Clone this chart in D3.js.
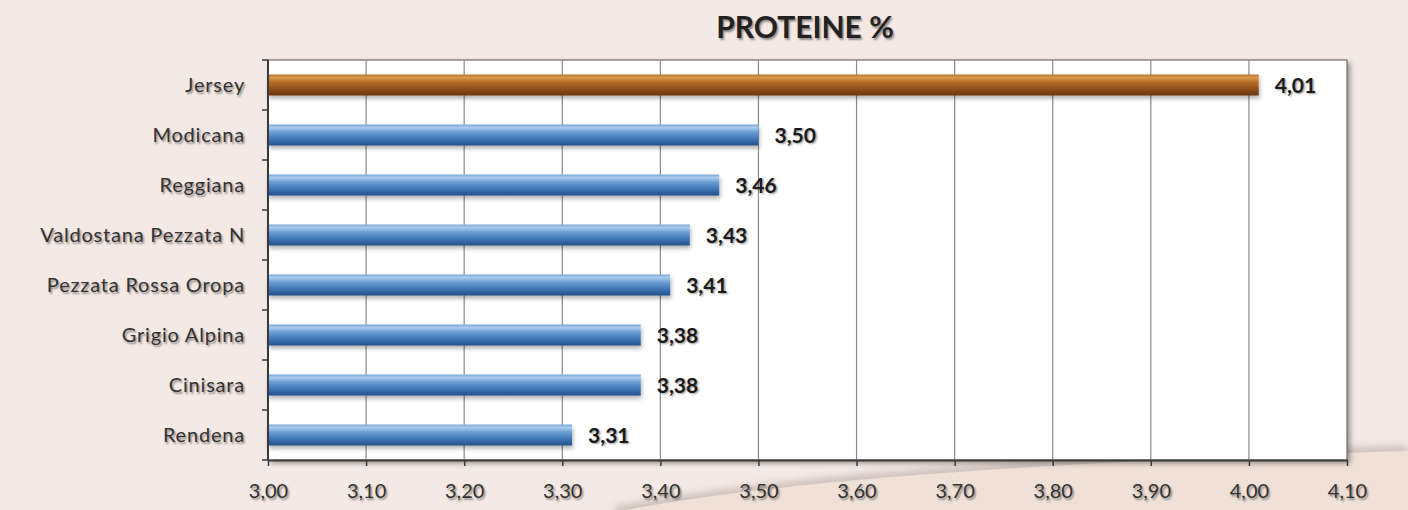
<!DOCTYPE html>
<html>
<head>
<meta charset="utf-8">
<script src="https://cdn.jsdelivr.net/npm/d3@7"></script>
<style>
  html, body { margin: 0; padding: 0; background: #f4e9e5; }
  svg { display: block; }
  .shadowed { text-shadow: 1.5px 1.5px 2px rgba(0, 0, 0, 0.4); }
</style>
</head>
<body>
<div id="chart"></div>
<script>
  // Chart data
  var breeds = ["Jersey", "Modicana", "Reggiana", "Valdostana Pezzata N", "Pezzata Rossa Oropa", "Grigio Alpina", "Cinisara", "Rendena"];
  var protein = [4.01, 3.50, 3.46, 3.43, 3.41, 3.38, 3.38, 3.31];
  var xTicks = [3.00, 3.10, 3.20, 3.30, 3.40, 3.50, 3.60, 3.70, 3.80, 3.90, 4.00, 4.10];
  var titleText = "PROTEINE %";

  var width = 1408, height = 510;
  var margin = { top: 60, right: 61, bottom: 50, left: 268 };
  var innerWidth = width - margin.left - margin.right;
  var innerHeight = height - margin.top - margin.bottom;

  var fmt = function (v) { return d3.format(".2f")(v).replace(".", ","); };
  var font = "Lato, 'Open Sans', sans-serif";

  var svg = d3.select("#chart").append("svg")
    .attr("width", width)
    .attr("height", height);

  var defs = svg.append("defs");

  // bar shadow
  var bs = defs.append("filter").attr("id", "barShadow")
    .attr("x", "-2%").attr("y", "-30%").attr("width", "104%").attr("height", "180%");
  bs.append("feDropShadow").attr("dx", 1).attr("dy", 3).attr("stdDeviation", 2)
    .attr("flood-color", "#000").attr("flood-opacity", 0.3);

  // plot area shadow
  var ps = defs.append("filter").attr("id", "plotShadow")
    .attr("x", "-2%").attr("y", "-2%").attr("width", "104%").attr("height", "106%");
  ps.append("feDropShadow").attr("dx", 3).attr("dy", 3).attr("stdDeviation", 2.5)
    .attr("flood-color", "#000").attr("flood-opacity", 0.35);

  // blur for the swoosh edge
  defs.append("filter").attr("id", "soft")
    .attr("x", "-5%").attr("y", "-50%").attr("width", "110%").attr("height", "200%")
    .append("feGaussianBlur").attr("stdDeviation", 4);

  function cylinder(id, stops) {
    var g = defs.append("linearGradient").attr("id", id)
      .attr("x1", 0).attr("y1", 0).attr("x2", 0).attr("y2", 1);
    stops.forEach(function (s) {
      g.append("stop").attr("offset", s[0]).attr("stop-color", s[1]);
    });
  }
  cylinder("gradBlue", [[0, "#7ba7d6"], [0.15, "#a9cbee"], [0.35, "#6f9fd6"], [0.7, "#3f74b4"], [1, "#22508a"]]);
  cylinder("gradBrown", [[0, "#b8752e"], [0.15, "#d99a4c"], [0.35, "#b56d26"], [0.7, "#8f4f1a"], [1, "#6a3510"]]);

  // background swoosh at bottom right
  var swooshCurve = "M615,512 C720,492 900,466 1408,451";
  svg.append("path")
    .attr("d", swooshCurve)
    .attr("fill", "none")
    .attr("stroke", "#a89c98").attr("stroke-width", 8).attr("opacity", 0.7)
    .attr("filter", "url(#soft)");
  svg.append("path")
    .attr("d", swooshCurve + " L1408,512 Z")
    .attr("fill", "#efe0d8");

  var g = svg.append("g")
    .attr("transform", "translate(" + margin.left + "," + margin.top + ")");

  var x = d3.scaleLinear().domain([3.0, 4.1]).range([0, innerWidth]);
  var y = d3.scaleBand().domain(breeds).range([0, innerHeight]).paddingInner(0.58).paddingOuter(0.29);

  // plot area
  g.append("rect")
    .attr("width", innerWidth).attr("height", innerHeight)
    .attr("fill", "#fff")
    .attr("stroke", "#555").attr("stroke-width", 1)
    .attr("filter", "url(#plotShadow)");

  // vertical gridlines
  g.append("g").selectAll("line")
    .data(xTicks.slice(1, -1))
    .join("line")
    .attr("x1", function (d) { return x(d); })
    .attr("x2", function (d) { return x(d); })
    .attr("y1", 0).attr("y2", innerHeight)
    .attr("stroke", "#8a8a8a").attr("stroke-width", 1.2);

  // bars
  g.append("g").selectAll("rect")
    .data(breeds)
    .join("rect")
    .attr("x", 0)
    .attr("y", function (d) { return y(d); })
    .attr("width", function (d, i) { return x(protein[i]) - x(3.0); })
    .attr("height", y.bandwidth())
    .attr("fill", function (d, i) { return i === 0 ? "url(#gradBrown)" : "url(#gradBlue)"; })
    .attr("filter", "url(#barShadow)");

  // value labels
  g.append("g").selectAll("text")
    .data(breeds)
    .join("text")
    .attr("class", "shadowed")
    .attr("x", function (d, i) { return x(protein[i]) + 16; })
    .attr("y", function (d) { return y(d) + y.bandwidth() / 2; })
    .attr("dy", "0.36em")
    .attr("font-family", font)
    .attr("font-weight", "bold")
    .attr("font-size", 21)
    .attr("fill", "#1a1a1a")
    .text(function (d, i) { return fmt(protein[i]); });

  // x axis
  var xAxis = g.append("g")
    .attr("transform", "translate(0," + innerHeight + ")")
    .call(d3.axisBottom(x).tickValues(xTicks).tickFormat(fmt).tickSize(6).tickSizeOuter(0));
  xAxis.select(".domain").attr("stroke", "#3a3a3a").attr("stroke-width", 2);
  xAxis.selectAll(".tick line").attr("stroke", "#3a3a3a").attr("stroke-width", 1.5);
  xAxis.selectAll(".tick text")
    .attr("class", "shadowed")
    .attr("y", 24)
    .attr("font-family", font).attr("font-size", 20).attr("fill", "#333");

  // y axis: ticks at band boundaries
  var yAxis = g.append("g");
  yAxis.append("line")
    .attr("x1", 0).attr("x2", 0).attr("y1", 0).attr("y2", innerHeight)
    .attr("stroke", "#3a3a3a").attr("stroke-width", 2);
  yAxis.selectAll(".ytick")
    .data(d3.range(breeds.length + 1))
    .join("line")
    .attr("class", "ytick")
    .attr("x1", -6).attr("x2", 0)
    .attr("y1", function (i) { return i * innerHeight / breeds.length; })
    .attr("y2", function (i) { return i * innerHeight / breeds.length; })
    .attr("stroke", "#3a3a3a").attr("stroke-width", 1.5);
  yAxis.selectAll(".ylabel")
    .data(breeds)
    .join("text")
    .attr("class", "ylabel shadowed")
    .attr("x", -23)
    .attr("y", function (d) { return y(d) + y.bandwidth() / 2; })
    .attr("dy", "0.36em")
    .attr("text-anchor", "end")
    .attr("font-family", font).attr("font-size", 20).attr("fill", "#333")
    .attr("letter-spacing", 0.8)
    .text(function (d) { return d; });

  // title
  svg.append("text")
    .attr("class", "shadowed")
    .attr("x", 805).attr("y", 38)
    .attr("text-anchor", "middle")
    .attr("font-family", font).attr("font-weight", "bold").attr("font-size", 30)
    .attr("fill", "#222")
    .text(titleText);
</script>
</body>
</html>
